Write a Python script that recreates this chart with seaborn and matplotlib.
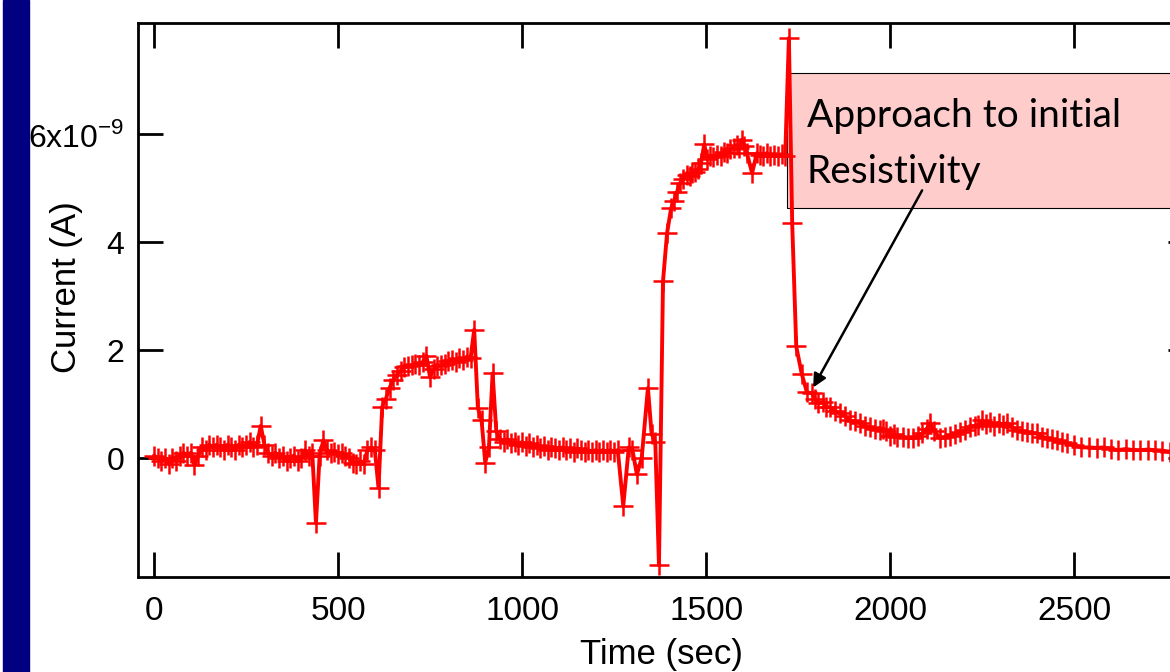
# Current vs time, approach to initial resistivity

import numpy as np
import pandas as pd
import seaborn as sns
import matplotlib.pyplot as plt
from matplotlib.patches import Rectangle

# --- Data (current in units of 1e-9 A) ---
t_base = [0, 10, 20, 30, 40, 50, 60, 70, 80, 90, 100, 110, 120, 130, 140, 150,
          160, 170, 180, 190, 200, 210, 220, 230, 240, 250, 260, 270, 280, 290,
          300, 310, 320, 330, 340, 350, 360, 370, 380, 390, 400, 410, 420, 430,
          440, 450, 460, 470, 480, 490, 500, 510, 520, 530, 540, 550, 560, 570,
          580, 590, 600, 610]
i_base = [0.05, 0.0, -0.05, 0.0, -0.1, 0.0, -0.05, 0.05, 0.1, 0.05, 0.1, -0.13,
          0.05, 0.2, 0.15, 0.25, 0.2, 0.25, 0.2, 0.15, 0.25, 0.2, 0.15, 0.25,
          0.2, 0.25, 0.3, 0.2, 0.25, 0.6, 0.25, 0.1, 0.05, 0.1, 0.0, 0.05,
          -0.05, 0.0, 0.05, -0.05, 0.0, 0.15, 0.05, 0.1, -1.2, 0.05, 0.33, 0.15,
          0.1, 0.12, 0.08, 0.1, 0.05, 0.0, -0.08, -0.1, -0.05, -0.1, 0.15, 0.2,
          0.15, -0.55]

t_step1 = [620, 630, 640, 650, 660, 670, 680, 690, 700, 710, 720, 730, 740, 750,
           760, 770, 780, 790, 800, 810, 820, 830, 840, 850, 860, 870, 880, 890,
           900, 910, 920, 930, 940]
i_step1 = [0.95, 1.1, 1.3, 1.45, 1.55, 1.62, 1.68, 1.7, 1.72, 1.75, 1.72, 1.78,
           1.9, 1.5, 1.65, 1.7, 1.72, 1.75, 1.8, 1.82, 1.78, 1.85, 1.82, 1.88,
           1.85, 2.38, 0.93, 0.7, -0.08, 0.2, 1.57, 0.5, 0.35]

t_flat = [950, 960, 970, 980, 990, 1000, 1010, 1020, 1030, 1040, 1050, 1060,
          1070, 1080, 1090, 1100, 1110, 1120, 1130, 1140, 1150, 1160, 1170, 1180,
          1190, 1200, 1210, 1220, 1230, 1240, 1250, 1260, 1275, 1290, 1300, 1312,
          1325, 1342, 1352, 1362, 1372]
i_flat = [0.3, 0.35, 0.28, 0.3, 0.25, 0.3, 0.22, 0.28, 0.2, 0.25, 0.18, 0.22,
          0.15, 0.2, 0.18, 0.15, 0.2, 0.15, 0.18, 0.12, 0.18, 0.15, 0.12, 0.15,
          0.12, 0.15, 0.12, 0.15, 0.12, 0.15, 0.12, 0.15, -0.88, 0.2, 0.15, -0.3,
          0.0, 1.3, 0.45, 0.3, -1.98]

t_step2 = [1383, 1394, 1405, 1413, 1421, 1429, 1438, 1448, 1455, 1462, 1470,
           1478, 1486, 1495, 1503, 1511, 1520, 1530, 1540, 1550, 1558, 1566,
           1575, 1583, 1590, 1597, 1604, 1611, 1625, 1638, 1647, 1655, 1665,
           1675, 1685, 1695, 1705, 1715]
i_step2 = [3.28, 4.17, 4.63, 4.76, 4.93, 5.09, 5.18, 5.24, 5.22, 5.28, 5.3, 5.35,
           5.46, 5.81, 5.55, 5.6, 5.58, 5.62, 5.6, 5.68, 5.65, 5.72, 5.75, 5.8,
           5.75, 5.9, 5.78, 5.65, 5.28, 5.65, 5.62, 5.6, 5.65, 5.6, 5.62, 5.6,
           5.63, 5.6]

t_decay = [1725, 1734, 1745, 1760, 1774, 1788, 1796, 1805, 1818, 1827,
           1837, 1850, 1864, 1877, 1891, 1905, 1918, 1932, 1945, 1960,
           1972, 1981, 1990, 2000, 2010, 2020, 2035, 2048, 2063, 2075,
           2088, 2100, 2109, 2120, 2136, 2150, 2163, 2177, 2190, 2204,
           2217, 2230, 2240, 2250, 2261, 2272, 2283, 2295, 2306, 2318,
           2331, 2345, 2358, 2372, 2385, 2399, 2413, 2427, 2440, 2454,
           2467, 2481, 2500, 2520, 2540, 2562, 2580, 2600, 2620, 2640,
           2660, 2680, 2700, 2720, 2740, 2760, 2780, 2800]
i_decay = [7.78, 4.35, 2.07, 1.56, 1.22, 1.2, 1.1, 1.02, 1.04, 0.95,
           0.94, 0.88, 0.83, 0.78, 0.7, 0.68, 0.65, 0.6, 0.57, 0.55,
           0.52, 0.55, 0.5, 0.42, 0.45, 0.39, 0.4, 0.38, 0.37, 0.42,
           0.46, 0.55, 0.65, 0.5, 0.37, 0.39, 0.42, 0.45, 0.48, 0.52,
           0.57, 0.6, 0.62, 0.7, 0.64, 0.67, 0.6, 0.65, 0.62, 0.65,
           0.58, 0.52, 0.5, 0.48, 0.46, 0.46, 0.4, 0.37, 0.35, 0.33,
           0.3, 0.28, 0.24, 0.2, 0.2, 0.19, 0.2, 0.17, 0.15, 0.17,
           0.15, 0.15, 0.16, 0.15, 0.14, 0.12, 0.12, 0.12]

x_ticks = [0, 500, 1000, 1500, 2000, 2500]
y_ticks = [0, 2, 4, 6]
y_tick_labels = ['0', '2', '4', '6x10$^{\\mathregular{-9}}$']

df = pd.DataFrame({
    'time': t_base + t_step1 + t_flat + t_step2 + t_decay,
    'current': i_base + i_step1 + i_flat + i_step2 + i_decay,
})

# --- Plotting ---
sns.set_style('white')
plt.rcParams['font.family'] = ['Liberation Sans', 'DejaVu Sans']
plt.rcParams['mathtext.fontset'] = 'custom'
plt.rcParams['mathtext.rm'] = 'Liberation Sans'
plt.rcParams['text.color'] = 'black'

fig = plt.figure(figsize=(11.7, 6.72), dpi=100)
W, H = 1170, 672
ax = fig.add_axes([138 / W, (H - 577) / H, 1055 / W, 554 / H])

# navy bar on the slide edge
fig.add_artist(Rectangle((3 / W, 0), 26 / W, 1, transform=fig.transFigure,
                         color='#000080', zorder=0))

sns.lineplot(data=df, x='time', y='current', ax=ax, estimator=None, sort=False,
             color='red', lw=2.8, marker='+', markersize=14,
             markeredgewidth=1.8, markeredgecolor='red', zorder=3)

ax.set_xlim(-43.5, 2823)
ax.set_ylim(-2.2, 8.06)
ax.set_xticks(x_ticks)
ax.set_yticks(y_ticks)
ax.set_yticklabels(y_tick_labels)
for side in ['left', 'right', 'top', 'bottom']:
    ax.spines[side].set_visible(True)
    ax.spines[side].set_linewidth(2)
    ax.spines[side].set_color('black')
ax.tick_params(direction='in', length=18, width=2, top=True, right=True,
               bottom=True, left=True, colors='black')
ax.tick_params(axis='x', pad=14, labelsize=24)
ax.tick_params(axis='y', pad=10, labelsize=23)

ax.set_xlabel('Time (sec)', fontsize=25, color='black')
ax.set_ylabel('Current (A)', fontsize=25, color='black')
ax.xaxis.set_label_coords(0.4957, -0.11)
ax.yaxis.set_label_coords(-0.052, 0.5226)

# annotation box
ax.add_patch(Rectangle((1720, 4.63), 1400, 2.5, facecolor='#FFCCCC',
                       edgecolor='black', lw=0.8, clip_on=False, zorder=1))
ax.text(1774, 6.13, 'Approach to initial', fontsize=28, family='Lato',
        color='black', va='baseline', ha='left', clip_on=False, zorder=4)
ax.text(1774, 5.09, 'Resistivity', fontsize=28, family='Lato',
        color='black', va='baseline', ha='left', clip_on=False, zorder=4)
ax.annotate('', xy=(1791, 1.31), xytext=(2087, 4.96),
            arrowprops=dict(arrowstyle='-|>', color='black', lw=1.8,
                            mutation_scale=20, shrinkA=0, shrinkB=0),
            zorder=4)

fig.savefig('out.png', dpi=100)
